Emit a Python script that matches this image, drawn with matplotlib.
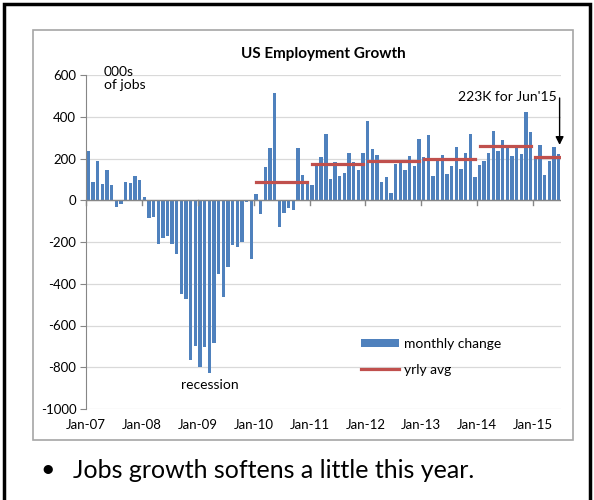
import matplotlib.pyplot as plt
import matplotlib.patches as patches
import numpy as np

plt.rcParams['font.family'] = ['Lato', 'DejaVu Sans']
plt.rcParams['axes.unicode_minus'] = False

# Monthly change in nonfarm payrolls, 000s, Jan-07 .. Jun-15
m2007 = [236, 89, 189, 78, 146, 71, -33, -17, 87, 83, 116, 97]
m2008 = [16, -86, -78, -211, -181, -170, -209, -259, -449, -475, -767, -698]
m2009 = [-798, -705, -827, -686, -354, -463, -322, -216, -225, -202, -6, -281]
m2010 = [32, -67, 160, 248, 516, -127, -62, -38, -48, 248, 121, 89]
m2011 = [73, 168, 206, 319, 103, 184, 117, 129, 224, 183, 144, 225]
m2012 = [378, 246, 216, 89, 113, 35, 176, 186, 143, 211, 163, 292]
m2013 = [205, 313, 114, 186, 219, 127, 162, 256, 149, 227, 316, 110]
m2014 = [167, 189, 225, 330, 235, 287, 249, 213, 251, 222, 422, 329]
m2015 = [200, 267, 119, 187, 254, 223]
monthly = m2007 + m2008 + m2009 + m2010 + m2011 + m2012 + m2013 + m2014 + m2015

# yearly averages (2010-2015)
avg_years = [2010, 2011, 2012, 2013, 2014, 2015]
avg_vals = [89, 176, 189, 198, 260, 208]
avg_months = [12, 12, 12, 12, 12, 6]

tick_labels = ['Jan-07', 'Jan-08', 'Jan-09', 'Jan-10', 'Jan-11',
               'Jan-12', 'Jan-13', 'Jan-14', 'Jan-15']

blue = '#4f81bd'
red = '#c0504d'

fig = plt.figure(figsize=(5.94, 5.0), dpi=100)
ax = fig.add_axes([86/594, 1-409/500, (561-86)/594, (409-75)/500])

x = np.arange(len(monthly))
bars = ax.bar(x, monthly, width=0.72, color=blue, zorder=3)

line = None
for yr, v, n in zip(avg_years, avg_vals, avg_months):
    s = (yr - 2007) * 12
    line, = ax.plot([s, s + n - 1], [v, v], color=red, linewidth=2.3, zorder=4)

ax.set_xlim(-0.5, 101.5)
ax.set_ylim(-1000, 600)
ax.set_yticks(np.arange(-1000, 601, 200))
ax.tick_params(axis='y', labelsize=9.5, length=4, color='#868686', pad=3)
ax.set_xticks(np.arange(-0.5, 101, 12))
ax.set_xticklabels(tick_labels)
ax.tick_params(axis='x', labelsize=9.5, length=0, pad=7)
ax.grid(axis='y', color='#d9d9d9', linewidth=0.9, zorder=0)

for s in ['top', 'right', 'bottom']:
    ax.spines[s].set_visible(False)
ax.spines['left'].set_color('#868686')

# zero axis line with small ticks at year boundaries
ax.axhline(0, color='#868686', linewidth=1, zorder=5)
for t in np.arange(-0.5, 101, 12):
    ax.plot([t, t], [0, -22], color='#868686', linewidth=1, zorder=5, clip_on=False)

ax.text(0.5, 1.062, 'US Employment Growth', transform=ax.transAxes, ha='center',
        va='center', fontsize=11, fontweight='bold')
ax.text(3.3, 645, '000s\nof jobs', fontsize=10, va='top', ha='left',
        linespacing=1.15)
ax.text(26, -885, 'recession', fontsize=10, ha='center', va='center')

ax.text(100.6, 497, "223K for Jun'15", ha='right', va='center', fontsize=10)
ax.annotate('', xy=(101.2, 265), xytext=(101.2, 490),
            arrowprops=dict(arrowstyle='-|>', color='black', lw=1,
                            shrinkA=0, shrinkB=0, mutation_scale=12))

ax.legend([bars, line], ['monthly change', 'yrly avg'],
          loc='center left', bbox_to_anchor=(0.568, 0.156), frameon=False,
          fontsize=10, handlelength=2.7, handleheight=0.6, labelspacing=1.0,
          borderaxespad=0, handletextpad=0.35)

# chart frame and outer slide frame
fig.patches.append(patches.Rectangle((33/594, 1-440/500), 540/594, 410/500,
                                     transform=fig.transFigure, fill=False,
                                     edgecolor='#a6a6a6', linewidth=1.2))
fig.patches.append(patches.Rectangle((4/594, -0.05), 586/594, 1-4/500+0.05,
                                     transform=fig.transFigure, fill=False,
                                     edgecolor='black', linewidth=2.5))

fig.text(40/594, 1-470/500, '\u2022', fontsize=18, va='center', ha='left')
fig.text(73/594, 1-470/500, 'Jobs growth softens a little this year.',
         fontsize=18, va='center', ha='left')

fig.savefig('out.png', dpi=100)
